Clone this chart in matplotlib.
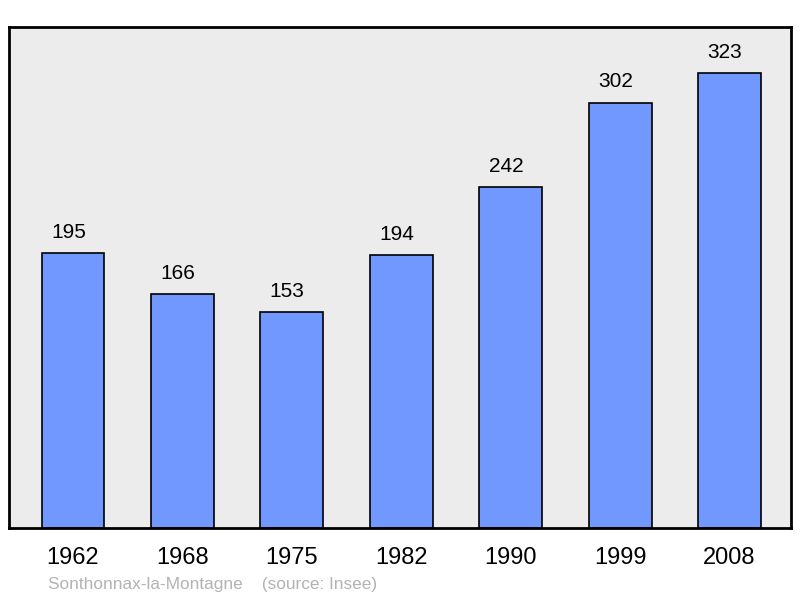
import matplotlib.pyplot as plt

years = ['1962', '1968', '1975', '1982', '1990', '1999', '2008']
population = [195, 166, 153, 194, 242, 302, 323]

plt.rcParams['font.family'] = ['Liberation Sans', 'DejaVu Sans']

fig = plt.figure(figsize=(8, 5.98), dpi=100)
ax = fig.add_axes([9 / 800, 1 - 528 / 598, 782 / 800, 501 / 598])
ax.set_facecolor('#ececec')

x = range(len(years))
ax.bar(x, population, width=0.575, color='#7098ff', edgecolor='black', linewidth=1.2)

# value labels sit slightly left of the bar centre in the original
for xi, v in zip(x, population):
    ax.annotate(str(v), (xi, v), xytext=(-3.3, 8), textcoords='offset points',
                ha='center', va='bottom', fontsize=15)

ax.set_xlim(-0.585, 6.562)
ax.set_ylim(0, 355.6)
ax.set_xticks(list(x))
ax.set_xticklabels(years, fontsize=17)
ax.tick_params(axis='x', length=0, pad=13.5)
ax.set_yticks([])
for s in ax.spines.values():
    s.set_linewidth(2)

fig.text(48 / 800, 1 - 585 / 598, 'Sonthonnax-la-Montagne    (source: Insee)',
         color='#b3b3b3', fontsize=12.4, va='center', ha='left')

fig.savefig('out.png', dpi=100)
